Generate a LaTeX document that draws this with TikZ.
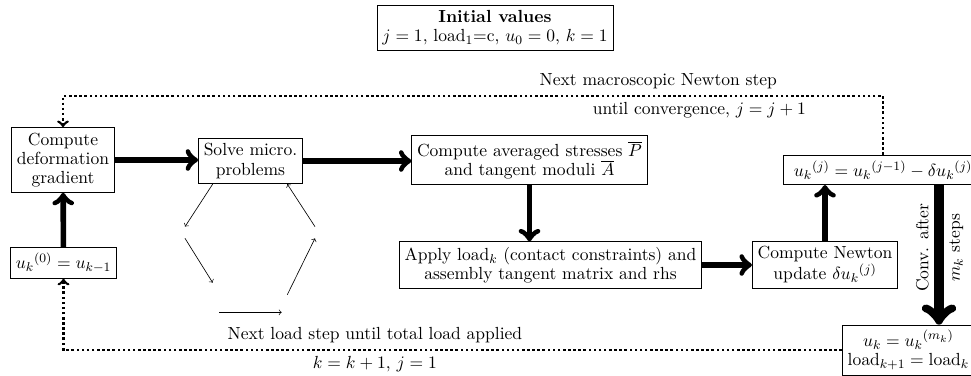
\documentclass[tikz,border=0pt]{standalone}
\usetikzlibrary{positioning}

\begin{document}
\begin{tikzpicture}[x=0.625pt, y=-0.625pt,
    every node/.style={font=\fontsize{10.95}{12}\selectfont},
    box/.style={draw, align=center},
    hub/.style={inner sep=0pt, minimum width=0pt, minimum height=0pt},
    flow/.style={->, line width=3.5pt},
    bigflow/.style={->, line width=6pt},
    loopback/.style={->, line width=1.6pt, dash pattern=on 1.6pt off 1.6pt},
    micro/.style={->}]
  \useasboundingbox (0,0) rectangle (971,376);

  % Start values and the macroscopic chain
  \node[box] (init) at (495,28) {\textbf{Initial values}\\ $j=1$, load$_1$=c, $u_0=0$, $k=1$};
  \node[box] (deform) at (63,160) {Compute\\deformation\\gradient};
  \node[box] (solve) at (250.5,161) {Solve micro.\\problems};
  \node[box] (stress) at (529.5,160) {Compute averaged stresses $\overline{P}$\\and tangent moduli $\overline{A}$};
  \node[box] (apply) at (550.5,265) {Apply load$_k$ (contact constraints) and\\assembly tangent matrix and rhs};
  \node[box] (newton) at (825,265) {Compute Newton\\update $\delta {u_k}^{(j)}$};
  \node[box, minimum width=124pt] (update) at (883,170) {${u_k}^{(j)} = {u_k}^{(j-1)} - \delta {u_k}^{(j)}$};
  \node[box, anchor=west] (conv) at (842,350) {$u_k = {u_k}^{(m_k)}$\\$\mathrm{load}_{k+1} = \mathrm{load}_k$};
  \node[box] (start) at (63.5,263) {${u_k}^{(0)} = u_{k-1}$};

  % Corners of the micro loop
  \node[hub, minimum height=6.9pt] (ml) at (185,232.5) {};
  \node[hub, minimum width=3.75pt, minimum height=18.1pt] (mbl) at (216,297.5) {};
  \node[hub, minimum width=3.1pt, minimum height=10.6pt] (mbr) at (284.5,303.5) {};
  \node[hub, minimum height=6.9pt] (mr) at (315,232.5) {};

  \draw[micro] (solve.south west -| mbl.north west) -- (ml.north);
  \draw[micro] (ml.south) -- (mbl.north west);
  \draw[micro] (mbl.south east) -- (mbr.south west);
  \draw[micro] (mbr.north east) -- (mr.south);
  \draw[micro] (mr.north) -- (solve.south -| mbr.north east);

  \draw[flow] (start) -- (deform);
  \draw[flow] (deform) -- (deform -| solve.west);
  \draw[flow] (solve) -- (solve -| stress.west);
  \draw[flow] (stress.south) -- (stress.south |- apply.north);
  \draw[flow] (apply) -- (newton);
  \draw[flow] (newton.north) -- (newton.north |- update.south);

  \coordinate (convx) at (939,0);
  \draw[bigflow] (update.south -| convx) --
    node[pos=.45, rotate=90, above] {Conv. after}
    node[pos=.45, rotate=90, below] {$m_k$ steps} (conv.north -| convx);

  % Newton loop and load loop
  \draw[loopback] (update.north) -- ++(0,-59) -|
    node[pos=.137, above] {Next macroscopic Newton step}
    node[pos=.112, below] {until convergence, $j=j+1$} (deform.north);
  \draw[loopback] (conv.west) -|
    node[pos=.3, above] {Next load step until total load applied}
    node[pos=.3, below] {$k=k+1$, $j=1$} (start.south);
\end{tikzpicture}
\end{document}
